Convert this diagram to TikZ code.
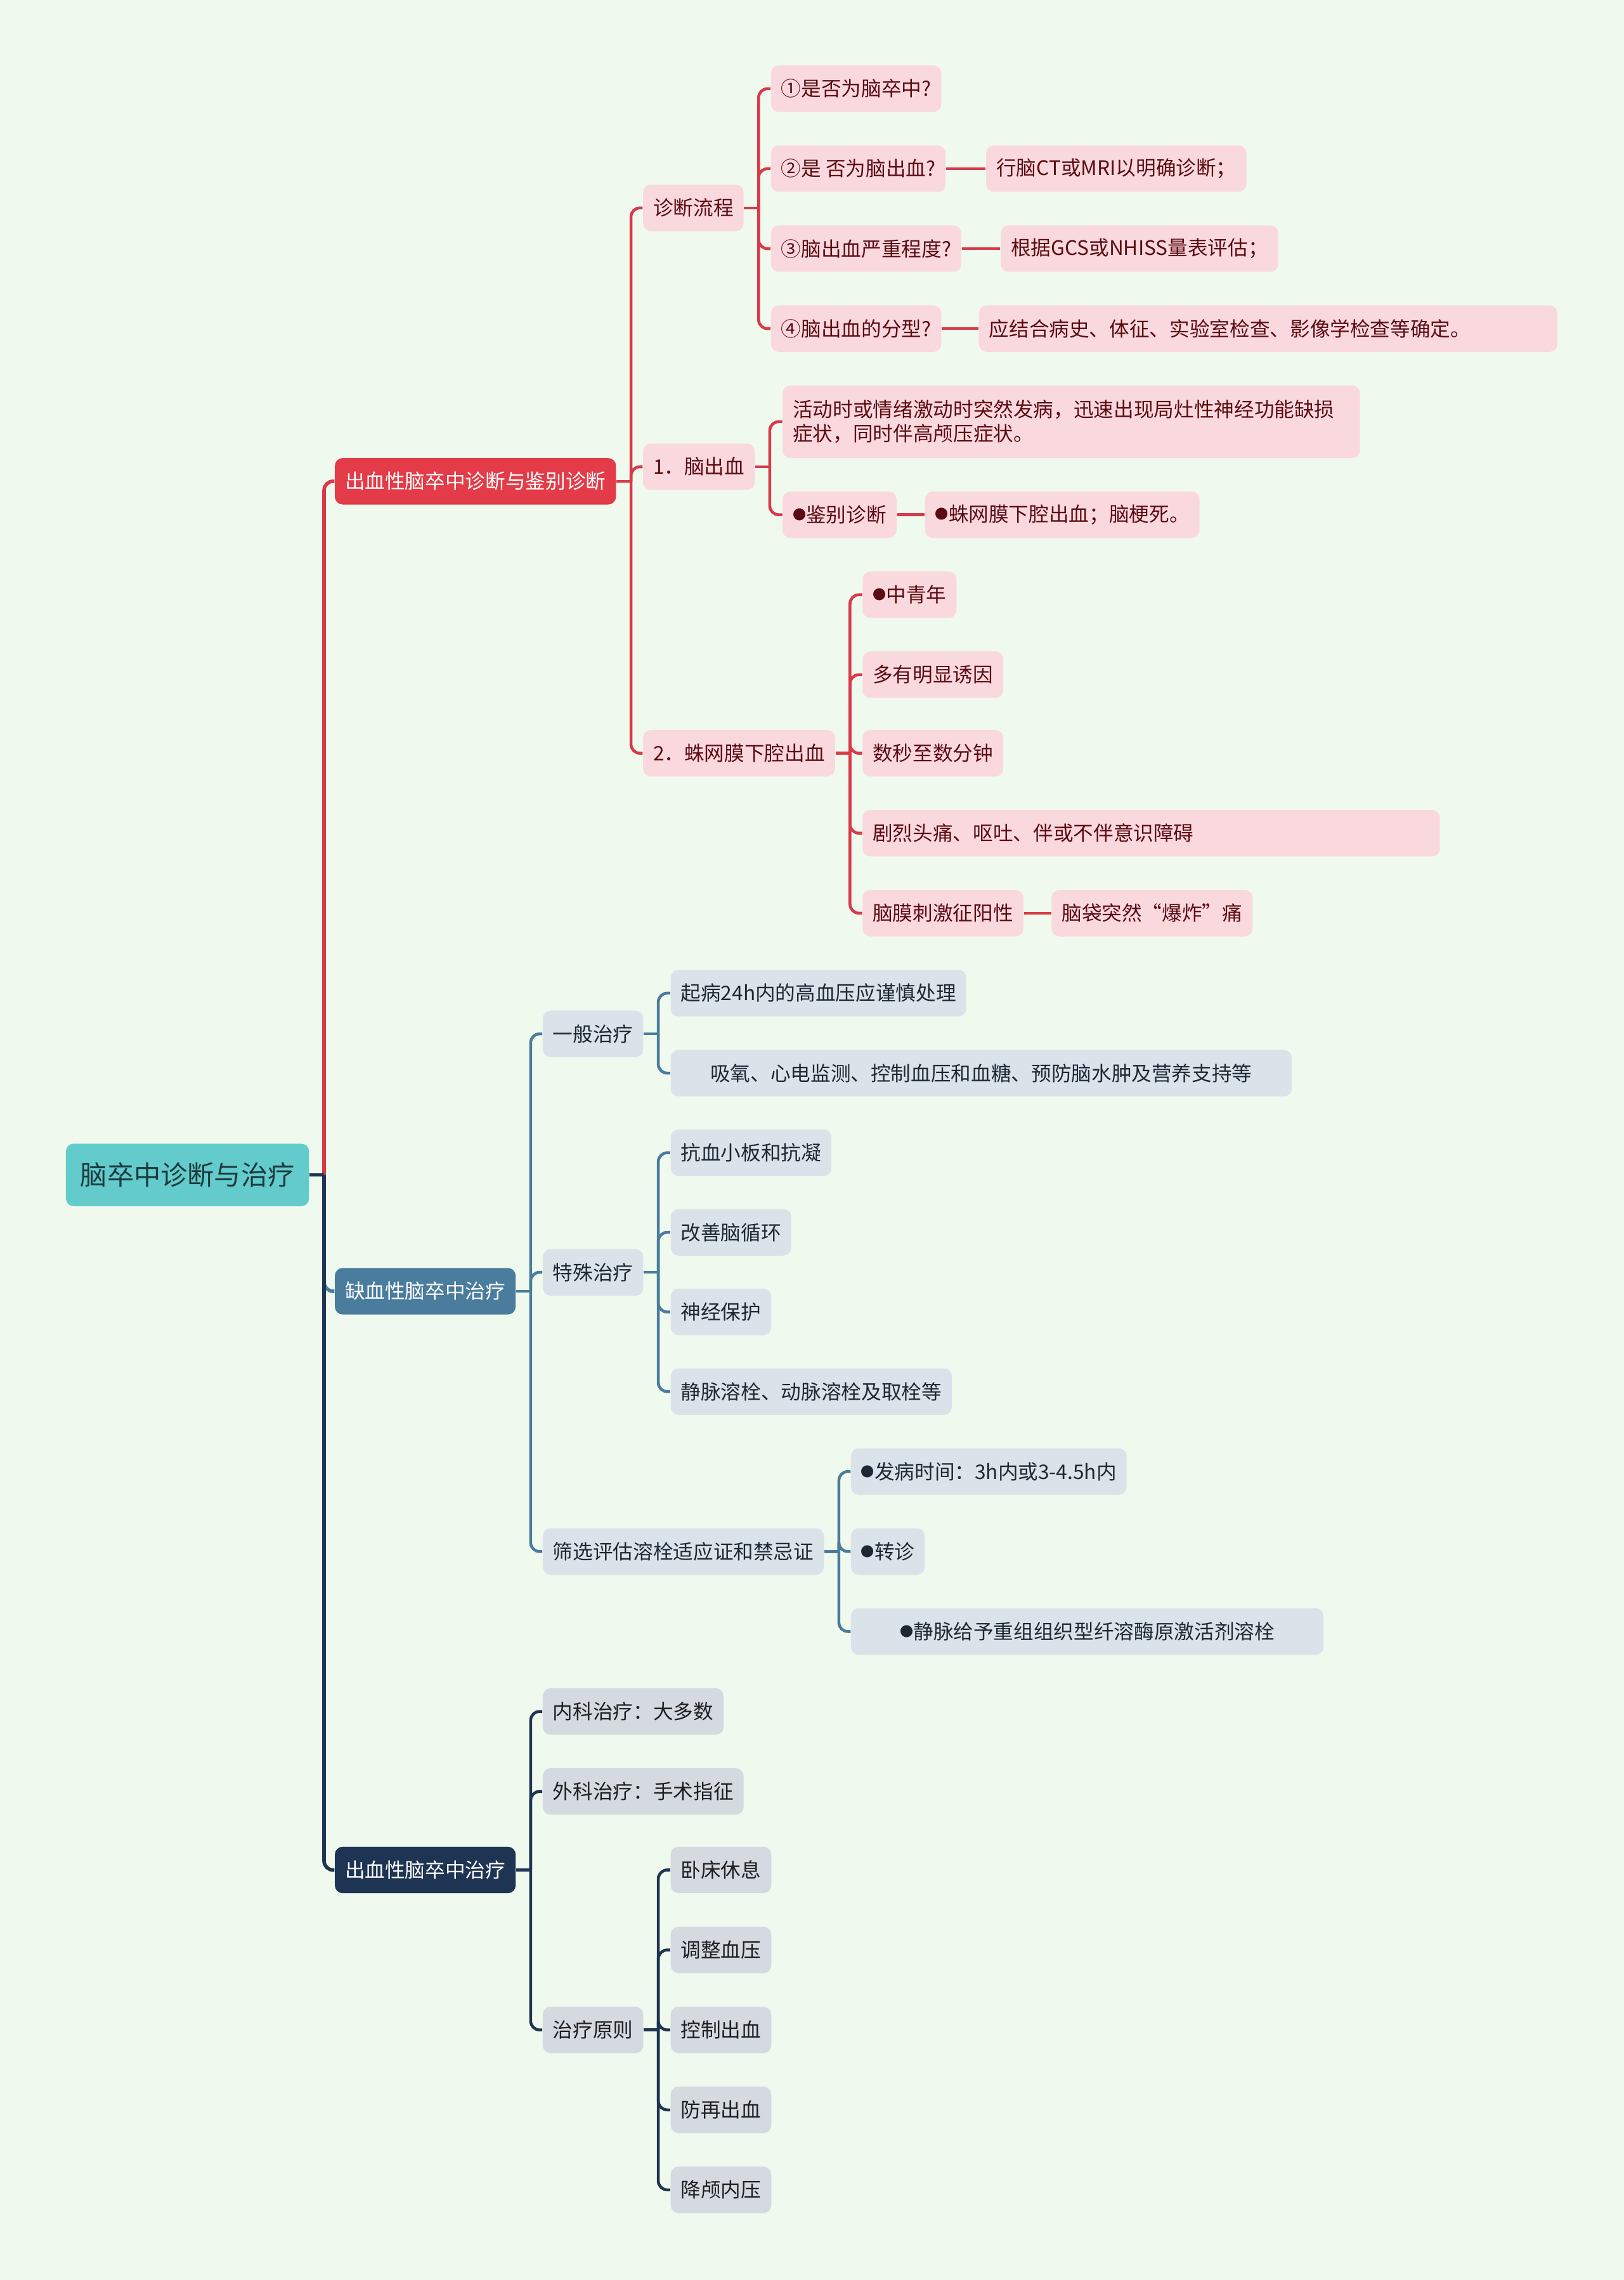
\documentclass[tikz,border=0pt]{standalone}
\usepackage{fontspec}
\setmainfont{Noto Sans CJK SC}
\usetikzlibrary{calc}
\definecolor{paper}{HTML}{F0F9EE}
\definecolor{rootfill}{HTML}{63CBCB}
\definecolor{roottext}{HTML}{1C3A3D}
\definecolor{hemred}{HTML}{E33B47}
\definecolor{hemline}{HTML}{D83A48}
\definecolor{pinkfill}{HTML}{FAD9DE}
\definecolor{pinktext}{HTML}{5C0B12}
\definecolor{ischblue}{HTML}{4A7C9E}
\definecolor{bluefill}{HTML}{DAE3EA}
\definecolor{bluetext}{HTML}{1C2833}
\definecolor{navy}{HTML}{1E3453}
\definecolor{greyfill}{HTML}{D5DAE1}
\definecolor{greytext}{HTML}{1E1E1E}
\newcommand\dotmark{\raisebox{0.12em}{\fontsize{6}{6}\selectfont ●}}

\begin{document}
\begin{tikzpicture}[x=0.022918cm, y=-0.022918cm,
    basebox/.style={rounded corners=3.5pt, inner xsep=0.16cm, inner ysep=0pt,
      minimum height=0.733cm, anchor=west, font=\fontsize{9}{11}\selectfont},
    rootbox/.style={basebox, fill=rootfill, text=roottext, minimum height=0.985cm,
      inner xsep=0.23cm, font=\fontsize{12}{14}\selectfont},
    hembox/.style={basebox, fill=hemred, text=white},
    ischbox/.style={basebox, fill=ischblue, text=white},
    treatbox/.style={basebox, fill=navy, text=white},
    pinkbox/.style={basebox, fill=pinkfill, text=pinktext},
    bluebox/.style={basebox, fill=bluefill, text=bluetext},
    greybox/.style={basebox, fill=greyfill, text=greytext},
    widebox/.style={text width=#1, align=left},
    redln/.style={draw=hemline, line width=1.3pt, rounded corners=4pt},
    blueln/.style={draw=ischblue, line width=1.3pt, rounded corners=4pt},
    navyln/.style={draw=navy, line width=1.3pt, rounded corners=4pt}]

  \fill[paper] (0,0) rectangle (1117,1568);
  \useasboundingbox (0,0) rectangle (1117,1568);

  % root and main branches
  \node[rootbox] (root) at (45,808) {脑卒中诊断与治疗};
  \node[hembox] (hdx) at (230,331) {出血性脑卒中诊断与鉴别诊断};
  \node[ischbox] (itx) at (230,888) {缺血性脑卒中治疗};
  \node[treatbox] (htx) at (230,1286) {出血性脑卒中治疗};

  % diagnosis of haemorrhagic stroke
  \node[pinkbox] (flow) at (442,143) {诊断流程};
  \node[pinkbox] (ich) at (442,321) {1．脑出血};
  \node[pinkbox] (sah) at (442,518) {2．蛛网膜下腔出血};

  \node[pinkbox] (q1) at (530,61) {①是否为脑卒中?};
  \node[pinkbox] (q2) at (530,116) {②是 否为脑出血?};
  \node[pinkbox] (q3) at (530,171) {③脑出血严重程度?};
  \node[pinkbox] (q4) at (530,226) {④脑出血的分型?};
  \node[pinkbox] (a2) at (678,116) {行脑CT或MRI以明确诊断；};
  \node[pinkbox] (a3) at (688,171) {根据GCS或NHISS量表评估；};
  \node[pinkbox, widebox=8.80cm] (a4) at (673,226) {应结合病史、体征、实验室检查、影像学检查等确定。};

  \node[pinkbox, widebox=8.78cm, minimum height=1.146cm] (sym) at (538,290)
    {活动时或情绪激动时突然发病，迅速出现局灶性神经功能缺损\\症状，同时伴高颅压症状。};
  \node[pinkbox] (ddx) at (538,354) {\dotmark 鉴别诊断};
  \node[pinkbox] (ddxa) at (636,354) {\dotmark 蛛网膜下腔出血；脑梗死。};

  \node[pinkbox] (s1) at (593,409) {\dotmark 中青年};
  \node[pinkbox] (s2) at (593,464) {多有明显诱因};
  \node[pinkbox] (s3) at (593,518) {数秒至数分钟};
  \node[pinkbox, widebox=8.78cm] (s4) at (593,573) {剧烈头痛、呕吐、伴或不伴意识障碍};
  \node[pinkbox] (s5) at (593,628) {脑膜刺激征阳性};
  \node[pinkbox] (s5a) at (723,628) {脑袋突然“爆炸”痛};

  % ischaemic stroke
  \node[bluebox] (gen) at (373,711) {一般治疗};
  \node[bluebox] (spec) at (373,875) {特殊治疗};
  \node[bluebox] (scr) at (373,1067) {筛选评估溶栓适应证和禁忌证};

  \node[bluebox] (g1) at (461,683) {起病24h内的高血压应谨慎处理};
  \node[bluebox, minimum width=9.79cm] (g2) at (461,738) {吸氧、心电监测、控制血压和血糖、预防脑水肿及营养支持等};

  \foreach \t [count=\i] in {抗血小板和抗凝, 改善脑循环, 神经保护, 静脉溶栓、动脉溶栓及取栓等}
    \node[bluebox] (p\i) at (461,738+54.75*\i) {\t};

  \node[bluebox] (r1) at (585,1012) {\dotmark 发病时间：3h内或3-4.5h内};
  \node[bluebox] (r2) at (585,1067) {\dotmark 转诊};
  \node[bluebox, minimum width=7.45cm] (r3) at (585,1122) {\dotmark 静脉给予重组组织型纤溶酶原激活剂溶栓};

  % haemorrhagic stroke treatment
  \node[greybox] (med) at (373,1177) {内科治疗：大多数};
  \node[greybox] (surg) at (373,1232) {外科治疗：手术指征};
  \node[greybox] (prin) at (373,1396) {治疗原则};

  \foreach \t [count=\i] in {卧床休息, 调整血压, 控制出血, 防再出血, 降颅内压}
    \node[greybox] (t\i) at (461,1231+55*\i) {\t};

  % connectors
  \draw[redln, line width=1.6pt] (root.east) ++(10,0) |- (hdx.west);
  \draw[blueln, line width=1.6pt] (root.east) ++(10,0) |- (itx.west);
  \draw[navyln, line width=1.6pt] (root.east) ++(10,0) |- (htx.west);
  \draw[navyln, line width=1.6pt] (root.east) -- ++(10,0);

  \draw[redln] (hdx.east) -- ++(10,0);
  \foreach \c in {flow, ich, sah}
    \draw[redln] (hdx.east) ++(10,0) |- (\c.west);
  \draw[redln] (flow.east) -- ++(10,0);
  \foreach \c in {q1, q2, q3, q4}
    \draw[redln] (flow.east) ++(10,0) |- (\c.west);
  \foreach \q/\a in {q2/a2, q3/a3, q4/a4}
    \draw[redln] (\q.east) -- (\a.west);
  \draw[redln] (ich.east) -- ++(10,0);
  \foreach \c in {sym, ddx}
    \draw[redln] (ich.east) ++(10,0) |- (\c.west);
  \draw[redln] (ddx.east) -- (ddxa.west);
  \draw[redln] (sah.east) -- ++(10,0);
  \foreach \c in {s1, s2, s3, s4, s5}
    \draw[redln] (sah.east) ++(10,0) |- (\c.west);
  \draw[redln] (s5.east) -- (s5a.west);

  \draw[blueln] (itx.east) -- ++(10,0);
  \foreach \c in {gen, spec, scr}
    \draw[blueln] (itx.east) ++(10,0) |- (\c.west);
  \draw[blueln] (gen.east) -- ++(10,0);
  \foreach \c in {g1, g2}
    \draw[blueln] (gen.east) ++(10,0) |- (\c.west);
  \draw[blueln] (spec.east) -- ++(10,0);
  \foreach \c in {p1, p2, p3, p4}
    \draw[blueln] (spec.east) ++(10,0) |- (\c.west);
  \draw[blueln] (scr.east) -- ++(10,0);
  \foreach \c in {r1, r2, r3}
    \draw[blueln] (scr.east) ++(10,0) |- (\c.west);

  \draw[navyln] (htx.east) -- ++(10,0);
  \foreach \c in {med, surg, prin}
    \draw[navyln] (htx.east) ++(10,0) |- (\c.west);
  \draw[navyln] (prin.east) -- ++(10,0);
  \foreach \c in {t1, t2, t3, t4, t5}
    \draw[navyln] (prin.east) ++(10,0) |- (\c.west);
\end{tikzpicture}
\end{document}
